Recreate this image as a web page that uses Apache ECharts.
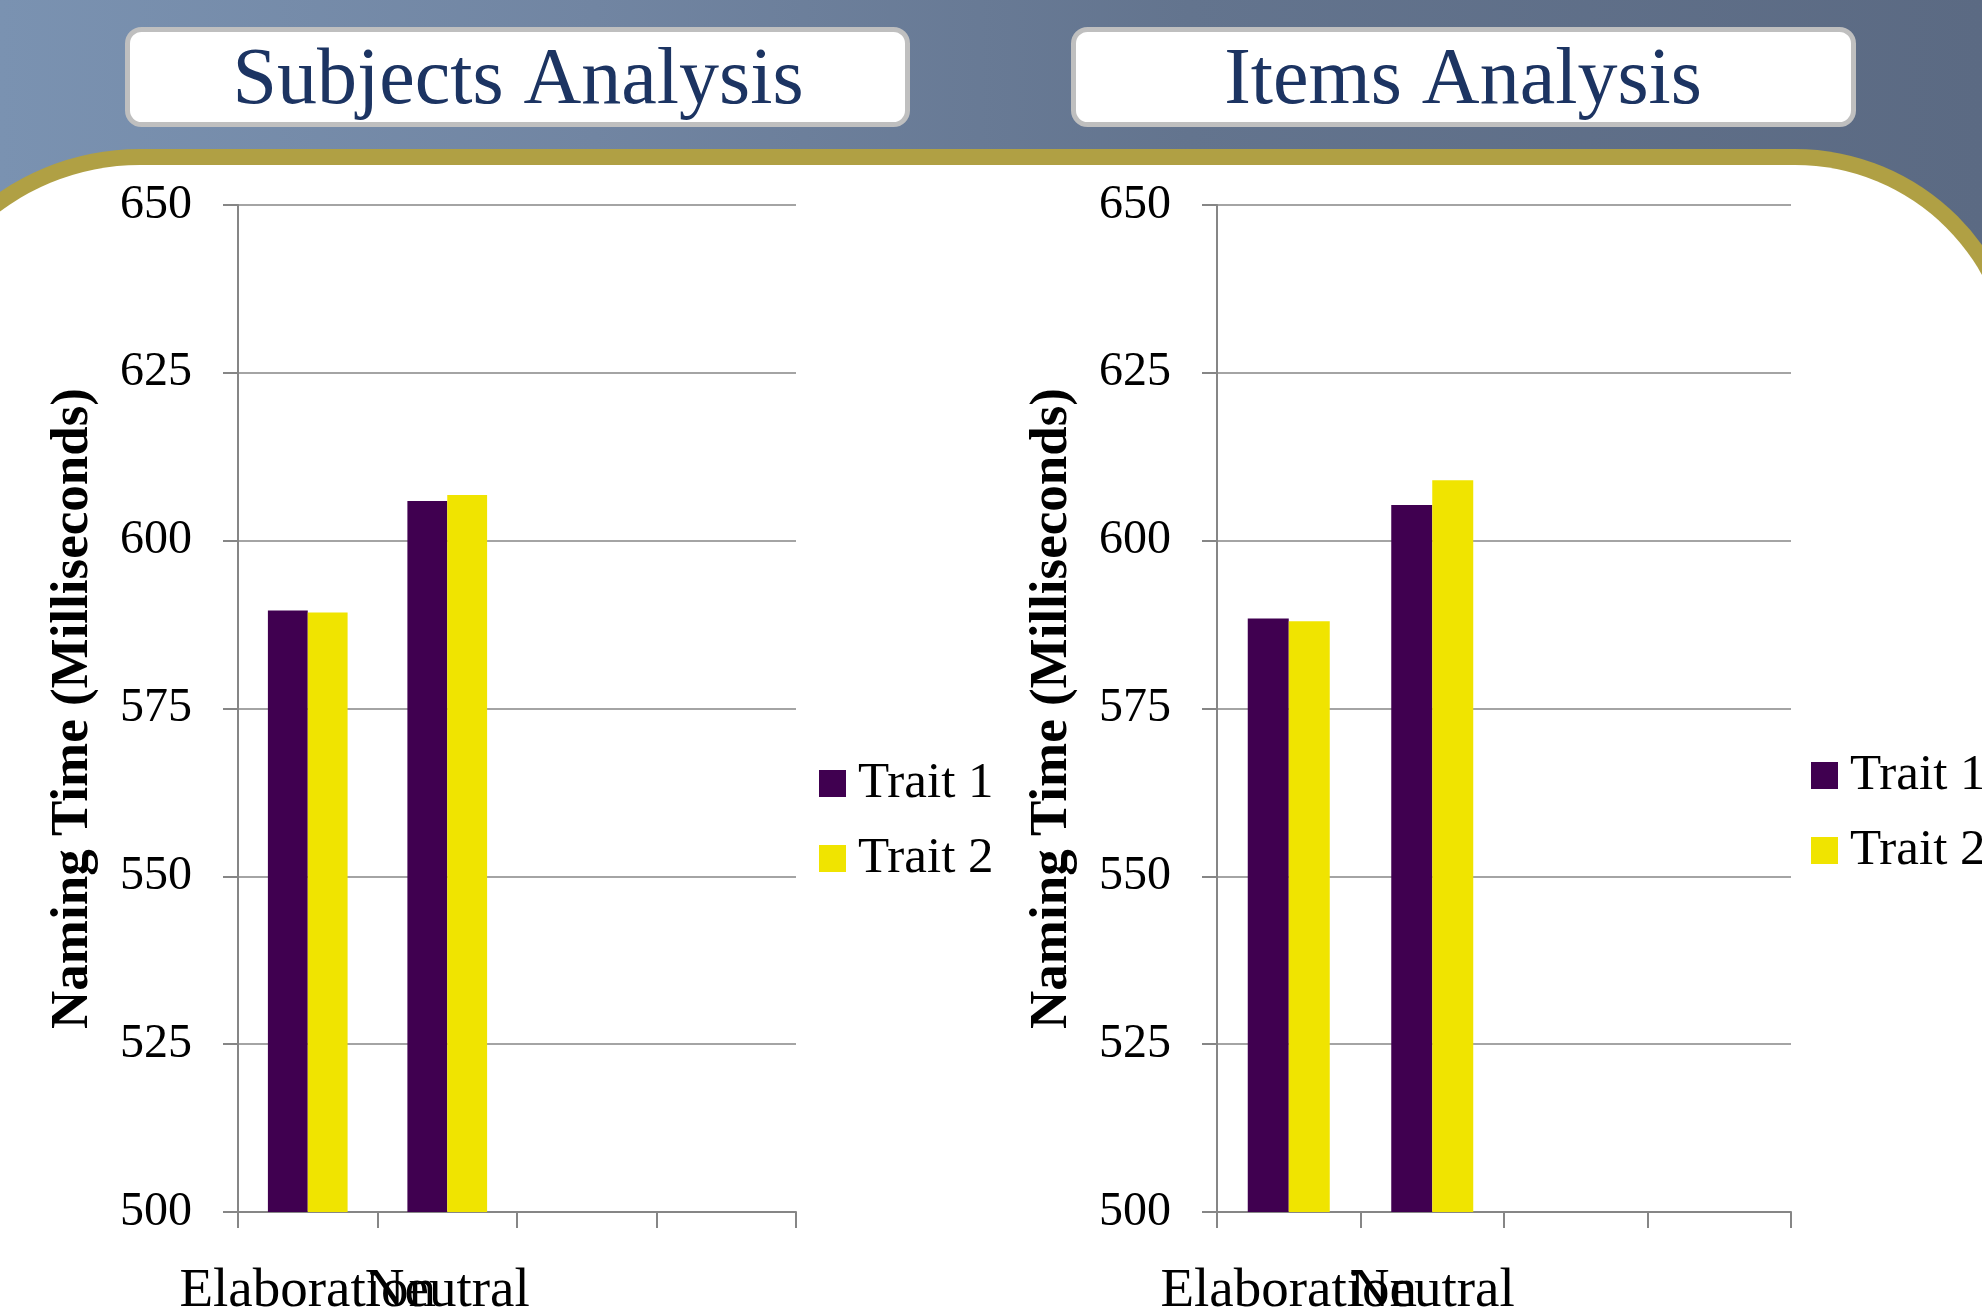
<!DOCTYPE html>
<html>
<head>
<meta charset="utf-8">
<script src="https://cdn.jsdelivr.net/npm/echarts@6/dist/echarts.min.js"></script>
<style>
html,body{margin:0;padding:0;background:#fff;}
#chart{width:1982px;height:1309px;}
</style>
</head>
<body>
<div id="chart"></div>
<script>
// ---- data ----
const panelTitles = ['Subjects Analysis', 'Items Analysis'];
const categories = ['Elaboration', 'Neutral', '', ''];
const seriesNames = ['Trait 1', 'Trait 2'];
const subjectsTrait1 = [589.6, 605.9];
const subjectsTrait2 = [589.3, 606.8];
const itemsTrait1 = [588.4, 605.3];
const itemsTrait2 = [588.0, 609.0];
const yTickMin = 500, yTickMax = 650, yTickStep = 25;
const yAxisTitle = 'Naming Time (Milliseconds)';

// ---- styles ----
const FONT = 'Liberation Serif';
const COLORS = ['#400050', '#f0e400'];
const GRID_GRAY = '#868686';

const chart = echarts.init(document.getElementById('chart'), null, {renderer: 'canvas'});

function xAxisFor(gridIndex) {
  return {
    type: 'category', gridIndex: gridIndex, data: categories,
    axisLine: {lineStyle: {color: GRID_GRAY, width: 2}},
    axisTick: {show: true, length: 16, lineStyle: {color: GRID_GRAY, width: 2}},
    axisLabel: {interval: 0, margin: 52, fontFamily: FONT, fontSize: 55, color: '#000', hideOverlap: false}
  };
}
function yAxisFor(gridIndex) {
  return {
    type: 'value', gridIndex: gridIndex, min: yTickMin, max: yTickMax, interval: yTickStep,
    name: yAxisTitle, nameLocation: 'middle', nameGap: 138, nameRotate: 90,
    nameTextStyle: {fontFamily: FONT, fontSize: 53, fontWeight: 'bold', color: '#000'},
    axisLine: {show: true, lineStyle: {color: GRID_GRAY, width: 2}},
    axisTick: {show: true, length: 15, lineStyle: {color: GRID_GRAY, width: 2}},
    axisLabel: {margin: 46, fontFamily: FONT, fontSize: 48, color: '#000'},
    splitLine: {show: true, lineStyle: {color: GRID_GRAY, width: 1.5}}
  };
}
function barSeries(name, data, idx, color) {
  return {
    type: 'bar', name: name, data: data, xAxisIndex: idx, yAxisIndex: idx,
    barGap: '0%', barCategoryGap: '42.86%',
    itemStyle: {color: color}
  };
}
function legendFor(left, top) {
  return {
    orient: 'vertical', left: left, top: top, padding: 0,
    data: seriesNames, icon: 'rect', itemWidth: 27, itemHeight: 27, itemGap: 24,
    textStyle: {fontFamily: FONT, fontSize: 51, color: '#000', padding: [0, 0, 0, 7]}
  };
}
function titleBox(x, w) {
  return {
    type: 'rect', z: 1,
    shape: {x: x + 2.5, y: 29.5, width: w - 5, height: 95, r: 14},
    style: {fill: '#ffffff', stroke: '#bfbfbf', lineWidth: 5}
  };
}

const option = {
  animation: false,
  graphic: {
    elements: [
      {
        type: 'rect', z: -30, silent: true,
        shape: {x: 0, y: 0, width: 1982, height: 1309},
        style: {
          fill: new echarts.graphic.LinearGradient(0, 0, 1, 0, [
            {offset: 0, color: '#7a92b1'},
            {offset: 0.3, color: '#7185a2'},
            {offset: 0.6, color: '#63748e'},
            {offset: 1, color: '#5b6a83'}
          ])
        }
      },
      {
        type: 'rect', z: -20, silent: true,
        shape: {x: -110, y: 149, width: 2135, height: 1400, r: [250, 230, 0, 0]},
        style: {fill: '#b0a044'}
      },
      {
        type: 'rect', z: -10, silent: true,
        shape: {x: -94, y: 165, width: 2103, height: 1400, r: [234, 214, 0, 0]},
        style: {fill: '#ffffff'}
      },
      titleBox(125, 785),
      titleBox(1071, 785)
    ]
  },
  title: [
    {text: panelTitles[0], left: 518, top: 42, textAlign: 'center', padding: 0, z: 10,
     textStyle: {fontFamily: FONT, fontSize: 80, fontWeight: 'normal', color: '#1c3462'}},
    {text: panelTitles[1], left: 1463, top: 42, textAlign: 'center', padding: 0, z: 10,
     textStyle: {fontFamily: FONT, fontSize: 80, fontWeight: 'normal', color: '#1c3462'}}
  ],
  legend: [legendFor(819, 758), legendFor(1811, 750)],
  grid: [
    {left: 238, top: 205, width: 558, height: 1007, containLabel: false, outerBoundsMode: 'none'},
    {left: 1217, top: 205, width: 574, height: 1007, containLabel: false, outerBoundsMode: 'none'}
  ],
  xAxis: [xAxisFor(0), xAxisFor(1)],
  yAxis: [yAxisFor(0), yAxisFor(1)],
  series: [
    barSeries(seriesNames[0], subjectsTrait1, 0, COLORS[0]),
    barSeries(seriesNames[1], subjectsTrait2, 0, COLORS[1]),
    barSeries(seriesNames[0], itemsTrait1, 1, COLORS[0]),
    barSeries(seriesNames[1], itemsTrait2, 1, COLORS[1])
  ]
};
chart.setOption(option);
</script>
</body>
</html>
